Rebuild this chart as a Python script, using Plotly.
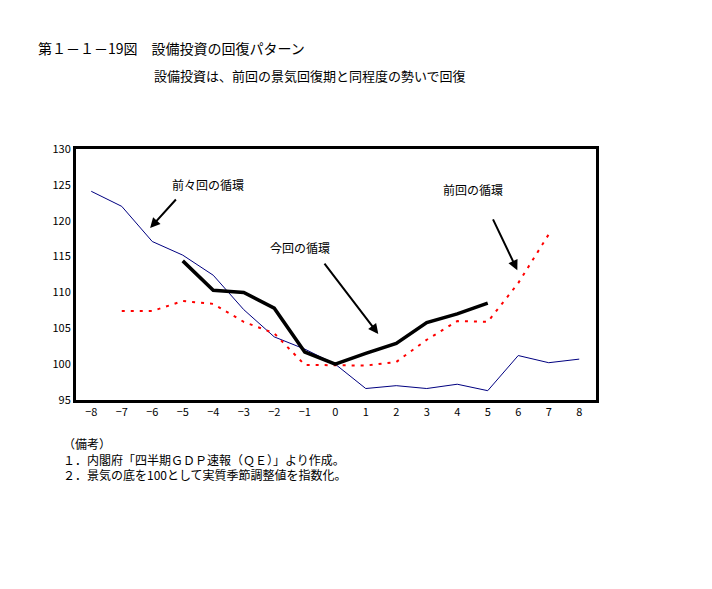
import plotly.graph_objects as go

x_vals = list(range(-8, 9))
prev2_cycle = [124.1, 122.0, 117.1, 115.2, 112.4, 107.6, 103.8, 102.1, 100.0, 96.6, 97.0, 96.6, 97.2, 96.3, 101.2, 100.2, 100.7]
x_curr = list(range(-5, 6))
curr_cycle = [114.4, 110.3, 110.0, 107.8, 101.7, 100.0, 101.5, 102.9, 105.8, 107.0, 108.5]
x_prev = list(range(-7, 8))
prev_cycle = [107.4, 107.4, 108.8, 108.4, 105.9, 104.3, 99.9, 99.9, 99.8, 100.3, 103.4, 106.0, 105.9, 111.3, 118.1]

y_ticks = [95, 100, 105, 110, 115, 120, 125, 130]

FONT = "Noto Sans CJK JP"

# page offsets (body margin 8px)
PL, PT, PW, PH = 76, 149, 520, 251
def px(p):
    return (p - PL) / PW
def py(p):
    return (PT + PH - p) / PH

fig = go.Figure()
fig.add_trace(go.Scatter(x=x_vals, y=prev2_cycle, mode="lines",
                         line=dict(color="#000080", width=1), showlegend=False))
fig.add_trace(go.Scatter(x=x_prev, y=prev_cycle, mode="lines",
                         line=dict(color="#ff0000", width=2, dash="3px,6px"), showlegend=False))
fig.add_trace(go.Scatter(x=x_curr, y=curr_cycle, mode="lines",
                         line=dict(color="#000000", width=3.5), showlegend=False))

fig.update_xaxes(range=[-8.5, 8.55], tickvals=x_vals, showgrid=False, zeroline=False,
                 showline=True, linecolor="black", linewidth=3, mirror=True,
                 ticks="", tickfont=dict(size=11, color="black", family=FONT))
fig.update_yaxes(range=[95, 130], tickvals=y_ticks, showgrid=False, zeroline=False,
                 showline=True, linecolor="black", linewidth=3, mirror=True,
                 ticks="", tickfont=dict(size=11, color="black", family=FONT))

annos = [
    dict(x=-4.16, y=125.0, text="前々回の循環"),
    dict(x=-1.15, y=116.2, text="今回の循環"),
    dict(x=4.52, y=124.3, text="前回の循環"),
]
for a in annos:
    fig.add_annotation(x=a["x"], y=a["y"], text=a["text"], showarrow=False,
                       font=dict(size=12, color="black", family=FONT))

arrows = [
    ((-5.18, 123.17), (-6.07, 118.98)),
    ((-0.39, 114.24), (1.41, 104.2)),
    ((5.15, 120.4), (5.97, 113.1)),
]
for (tx, ty), (hx, hy) in arrows:
    fig.add_annotation(x=hx, y=hy, ax=tx, ay=ty, axref="x", ayref="y", xref="x", yref="y",
                       text="", showarrow=True, arrowhead=2, arrowsize=1, arrowwidth=2,
                       arrowcolor="black")

fig.add_annotation(xref="paper", yref="paper", x=px(36), y=py(48), xanchor="left",
                   yanchor="middle", text="第１－１－19図　設備投資の回復パターン", showarrow=False,
                   font=dict(size=14, color="black", family=FONT))
fig.add_annotation(xref="paper", yref="paper", x=px(152), y=py(75), xanchor="left",
                   yanchor="middle", text="設備投資は、前回の景気回復期と同程度の勢いで回復", showarrow=False,
                   font=dict(size=13, color="black", family=FONT))
notes = ["（備考）", "１．内閣府「四半期ＧＤＰ速報（ＱＥ）」より作成。", "２．景気の底を100として実質季節調整値を指数化。"]
fig.add_annotation(xref="paper", yref="paper", x=px(62), y=py(434),
                   xanchor="left", yanchor="top", align="left", text="<br>".join(notes),
                   showarrow=False, borderpad=0,
                   font=dict(size=12, color="black", family=FONT))

fig.update_layout(width=704, height=581, margin=dict(l=68, r=116, t=141, b=189),
                  paper_bgcolor="white", plot_bgcolor="white", font=dict(family=FONT))
fig.write_html("out.html")
